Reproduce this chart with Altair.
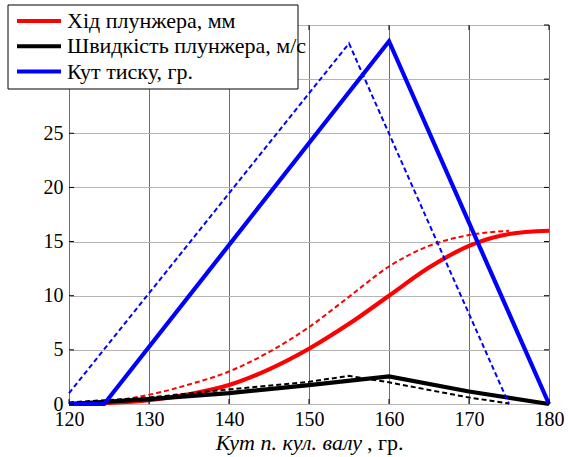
import altair as alt
import pandas as pd

# ---- data ----------------------------------------------------------------
series_names = ["Хід плунжера, мм", "Швидкість плунжера, м/с", "Кут тиску, гр."]
series_colors = ["#ff0000", "#000000", "#0000ff"]

# plunger travel, mm
travel_x = [120, 125, 130, 135, 140, 145, 150, 155, 160, 165, 170, 175, 180]
travel_solid = [0, 0.1, 0.35, 0.9, 1.75, 3.2, 5.1, 7.4, 10.0, 12.6, 14.6, 15.7, 16.0]
travel_x_d = [120, 125, 130, 135, 140, 145, 150, 155, 160, 165, 170, 175]
travel_dashed = [0, 0.25, 0.85, 1.8, 3.0, 4.8, 7.1, 9.9, 12.7, 14.6, 15.6, 16.0]

# plunger speed, m/s
speed_x = [120, 130, 140, 150, 160, 170, 180]
speed_solid = [0, 0.45, 1.0, 1.75, 2.55, 1.15, 0]
speed_x_d = [120, 130, 140, 150, 155, 160, 165, 170, 175]
speed_dashed = [0.15, 0.6, 1.35, 2.05, 2.6, 2.0, 1.3, 0.6, 0.05]

# pressure angle, deg
press_x = [120, 124.4, 160, 180]
press_solid = [0, 0, 33.5, 0]
press_x_d = [120, 155, 175]
press_dashed = [1.0, 33.3, 0]

x_ticks = [120, 130, 140, 150, 160, 170, 180]
y_ticks = [0, 5, 10, 15, 20, 25, 30, 35]

# ---- layout --------------------------------------------------------------
W, H = 480, 379
FONT = "Liberation Serif"

x_scale = alt.Scale(domain=[120, 180], nice=False, zero=False)
y_scale = alt.Scale(domain=[0, 35], nice=False)

x_axis = alt.Axis(values=x_ticks, title=None, grid=True, ticks=False, domain=False,
                  labelFont=FONT, labelFontSize=20, labelColor="black",
                  labelPadding=5, labelFlush=False, gridColor="#707070",
                  gridWidth=1, zindex=0)
y_axis = alt.Axis(values=y_ticks, title=None, grid=True, ticks=False, domain=False,
                  labelFont=FONT, labelFontSize=20, labelColor="black",
                  labelPadding=6, labelFlush=False, gridColor="#b4b4b4",
                  gridWidth=1.2, zindex=0)


def line_layer(xs, ys, color, dashed, smooth):
    df = pd.DataFrame({"angle": xs, "value": ys})
    kw = dict(color=color, strokeWidth=2 if dashed else 4.2,
              interpolate="monotone" if smooth else "linear", clip=False)
    if dashed:
        kw["strokeDash"] = [5, 3]
    return alt.Chart(df).mark_line(**kw).encode(
        x=alt.X("angle:Q", scale=x_scale, axis=x_axis),
        y=alt.Y("value:Q", scale=y_scale, axis=y_axis),
    )


layers = [
    line_layer(travel_x, travel_solid, series_colors[0], False, True),
    line_layer(travel_x_d, travel_dashed, series_colors[0], True, True),
    line_layer(speed_x, speed_solid, series_colors[1], False, False),
    line_layer(speed_x_d, speed_dashed, series_colors[1], True, False),
    line_layer(press_x, press_solid, series_colors[2], False, False),
    line_layer(press_x_d, press_dashed, series_colors[2], True, False),
]

# inward tick marks on all four sides of the frame
xt = pd.DataFrame({"t": x_ticks})
yt = pd.DataFrame({"t": y_ticks})
tick_len = 5
for y0, y1 in [(H, H - tick_len), (0, tick_len)]:
    layers.append(alt.Chart(xt).mark_rule(color="black", strokeWidth=1).encode(
        x=alt.X("t:Q", scale=x_scale, axis=x_axis),
        y=alt.value(y0), y2=alt.value(y1)))
for x0, x1 in [(0, tick_len), (W, W - tick_len)]:
    layers.append(alt.Chart(yt).mark_rule(color="black", strokeWidth=1).encode(
        y=alt.Y("t:Q", scale=y_scale, axis=y_axis),
        x=alt.value(x0), x2=alt.value(x1)))

one = pd.DataFrame({"k": [0]})

# x-axis title: italic name followed by the unit in upright type
layers.append(alt.Chart(one).mark_text(
    text="Кут п. кул. валу", font=FONT, fontSize=22, fontStyle="italic",
    align="right", baseline="alphabetic", color="black").encode(
    x=alt.value(293), y=alt.value(H + 46)))
layers.append(alt.Chart(one).mark_text(
    text=", гр.", font=FONT, fontSize=22, align="left",
    baseline="alphabetic", color="black").encode(
    x=alt.value(298), y=alt.value(H + 46)))

# legend box
layers.append(alt.Chart(one).mark_rect(fill="white", stroke="black", strokeWidth=1).encode(
    x=alt.value(-61), x2=alt.value(229), y=alt.value(-20), y2=alt.value(64)))
for i, (name, col) in enumerate(zip(series_names, series_colors)):
    yy = -4 + 25.3 * i
    layers.append(alt.Chart(one).mark_rule(color=col, strokeWidth=4).encode(
        x=alt.value(-52), x2=alt.value(-8), y=alt.value(yy)))
    layers.append(alt.Chart(one).mark_text(
        text=name, font=FONT, fontSize=22, align="left", baseline="middle",
        color="black").encode(x=alt.value(-2), y=alt.value(yy)))

chart = alt.layer(*layers).properties(
    width=W, height=H,
    autosize=alt.AutoSizeParams(type="none"),
    padding={"left": 69, "top": 25, "right": 19, "bottom": 53},
    background="white",
).configure(font=FONT).configure_view(stroke="black", strokeWidth=1)

chart.save("out.html", embed_options={"renderer": "svg", "actions": False})
